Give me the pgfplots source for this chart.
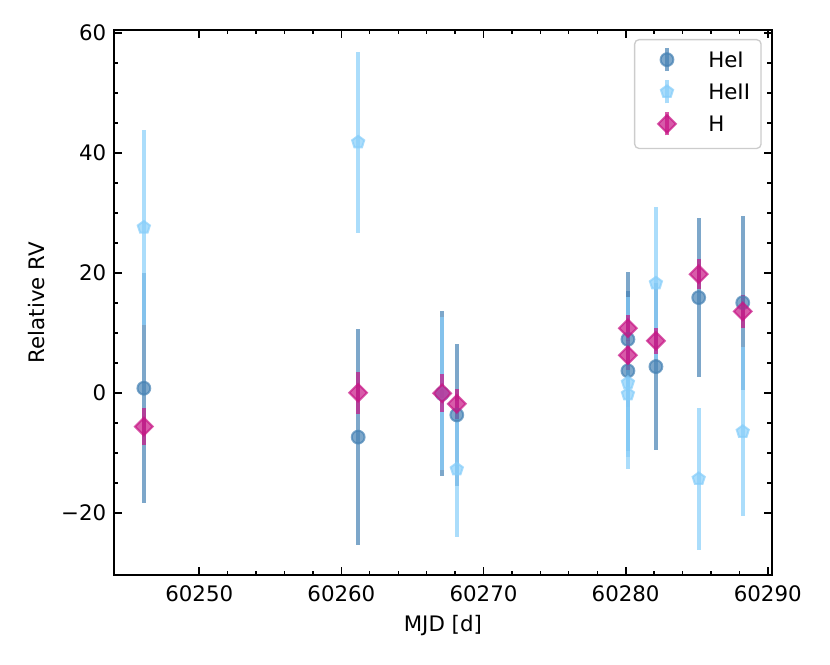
\documentclass[border=0pt]{standalone}
\usepackage{pgfplots}
\usepackage{pgfplotstable}
\pgfplotsset{compat=1.18}
\usepackage{fontspec}
\setmainfont{DejaVu Sans}
\definecolor{cHeI}{HTML}{4682B4}
\definecolor{cHeII}{HTML}{87CEFA}
\definecolor{cH}{HTML}{C71585}

\pgfplotstableread{
x y e
60246.10 0.80 19.20
60261.18 -7.35 18.05
60267.09 -0.10 13.80
60268.12 -3.65 11.80
60280.16 8.95 11.25
60280.16 3.70 13.35
60282.13 4.40 13.90
60285.14 15.90 13.20
60288.24 15.05 14.50
}\tHeI

\pgfplotstableread{
x y e
60246.10 27.60 16.20
60261.18 41.80 15.10
60267.09 -0.10 12.80
60268.12 -12.70 11.35
60280.16 1.70 14.30
60280.16 -0.20 10.50
60282.13 18.30 12.65
60285.14 -14.30 11.80
60288.24 -6.45 14.05
}\tHeII

\pgfplotstableread{
x y e
60246.10 -5.60 3.10
60261.18 0.05 3.50
60267.09 -0.05 3.15
60268.12 -1.80 2.45
60280.16 10.80 2.20
60280.16 6.30 2.50
60282.13 8.70 2.20
60285.14 19.80 2.50
60288.24 13.60 2.70
}\tH

\begin{document}
\begin{tikzpicture}
\path[use as bounding box] (-85.5pt,-66.75pt) rectangle (537pt,431.25pt);
\begin{axis}[
  at={(0pt,0pt)}, anchor=south west,
  scale only axis, width=493.3pt, height=408.75pt,
  xmin=60244.0, xmax=60290.28, ymin=-30.33, ymax=60.5,
  scaled x ticks=false, scaled y ticks=false,
  xtick={60250,60260,60270,60280,60290},
  xticklabels={60250,60260,60270,60280,60290},
  ytick={-20,0,20,40,60},
  yticklabels={−20,0,20,40,60},
  minor x tick num=4, minor y tick num=3,
  tick align=inside,
  major tick length=5.8pt, minor tick length=3.3pt,
  major tick style={line width=1.3pt, black},
  minor tick style={line width=1pt, black},
  axis line style={line width=1.3pt},
  /pgf/number format/assume math mode=true,
  tick label style={font=\fontsize{16}{19.2}\selectfont},
  x tick label style={anchor=base, inner sep=0pt, yshift=-19.9pt},
  y tick label style={anchor=east, inner sep=0pt, xshift=-5.6pt},
  xlabel={MJD [d]},
  ylabel={Relative RV},
  every axis x label/.style={at={(axis description cs:0.5,-0.104)}, anchor=base, inner sep=0pt, font=\fontsize{16}{19.2}\selectfont},
  every axis y label/.style={at={(axis description cs:-0.1049,0.5)}, rotate=90, anchor=base, inner sep=0pt, font=\fontsize{16}{19.2}\selectfont},
  legend style={at={(axis description cs:0.9848,0.9835)}, anchor=north east,
    draw=black!20, line width=1pt, rounded corners=3.3pt,
    fill=white, fill opacity=0.8, draw opacity=1, text opacity=1,
    inner xsep=8.25pt, inner ysep=9pt, row sep=8.7pt, column sep=15pt,
    nodes={inner sep=0pt, text height=12pt, text depth=3.4pt},
    cells={anchor=base west},
    font=\fontsize{16}{19.2}\selectfont},
]
\addplot[only marks, mark=*, mark size=4.8pt,
  mark options={draw=cHeI, fill=cHeI, draw opacity=0.7, fill opacity=0.7, line width=1.5pt},
  legend image code/.code={
    \path[draw=none, fill=none] (0pt,0pt) (32pt,0pt);
    \draw[overlay, sharp corners, line width=3pt, draw=cHeI, draw opacity=0.7] (16pt,-2.6pt) -- (16pt,14.6pt);
    \draw[overlay, sharp corners, only marks, mark=*, mark size=4.8pt, mark options={draw=cHeI, fill=cHeI, draw opacity=0.7, fill opacity=0.7, line width=1.5pt}] plot coordinates {(16pt,6pt)};
  },
  error bars/.cd, y dir=both, y explicit, error mark=none,
  error bar style={line width=3pt, draw=cHeI, draw opacity=0.7}]
  table[x=x, y=y, y error=e] {\tHeI};
\addlegendentry{HeI}
\addplot[only marks, mark=pentagon*, mark size=4.8pt,
  mark options={draw=cHeII, fill=cHeII, draw opacity=0.7, fill opacity=0.7, line width=1.5pt},
  legend image code/.code={
    \path[draw=none, fill=none] (0pt,0pt) (32pt,0pt);
    \draw[overlay, sharp corners, line width=3pt, draw=cHeII, draw opacity=0.7] (16pt,-2.6pt) -- (16pt,14.6pt);
    \draw[overlay, sharp corners, only marks, mark=pentagon*, mark size=4.8pt, mark options={draw=cHeII, fill=cHeII, draw opacity=0.7, fill opacity=0.7, line width=1.5pt}] plot coordinates {(16pt,6pt)};
  },
  error bars/.cd, y dir=both, y explicit, error mark=none,
  error bar style={line width=3pt, draw=cHeII, draw opacity=0.7}]
  table[x=x, y=y, y error=e] {\tHeII};
\addlegendentry{HeII}
\addplot[only marks, mark=square*, mark size=4.7pt,
  mark options={rotate=45, draw=cH, fill=cH, draw opacity=0.7, fill opacity=0.7, line width=1.5pt},
  legend image code/.code={
    \path[draw=none, fill=none] (0pt,0pt) (32pt,0pt);
    \draw[overlay, sharp corners, line width=3pt, draw=cH, draw opacity=0.7] (16pt,-2.6pt) -- (16pt,14.6pt);
    \draw[overlay, sharp corners, only marks, mark=square*, mark size=4.7pt, mark options={rotate=45, draw=cH, fill=cH, draw opacity=0.7, fill opacity=0.7, line width=1.5pt}] plot coordinates {(16pt,6pt)};
  },
  error bars/.cd, y dir=both, y explicit, error mark=none,
  error bar style={line width=3pt, draw=cH, draw opacity=0.7}]
  table[x=x, y=y, y error=e] {\tH};
\addlegendentry{H}
\end{axis}
\end{tikzpicture}
\end{document}
